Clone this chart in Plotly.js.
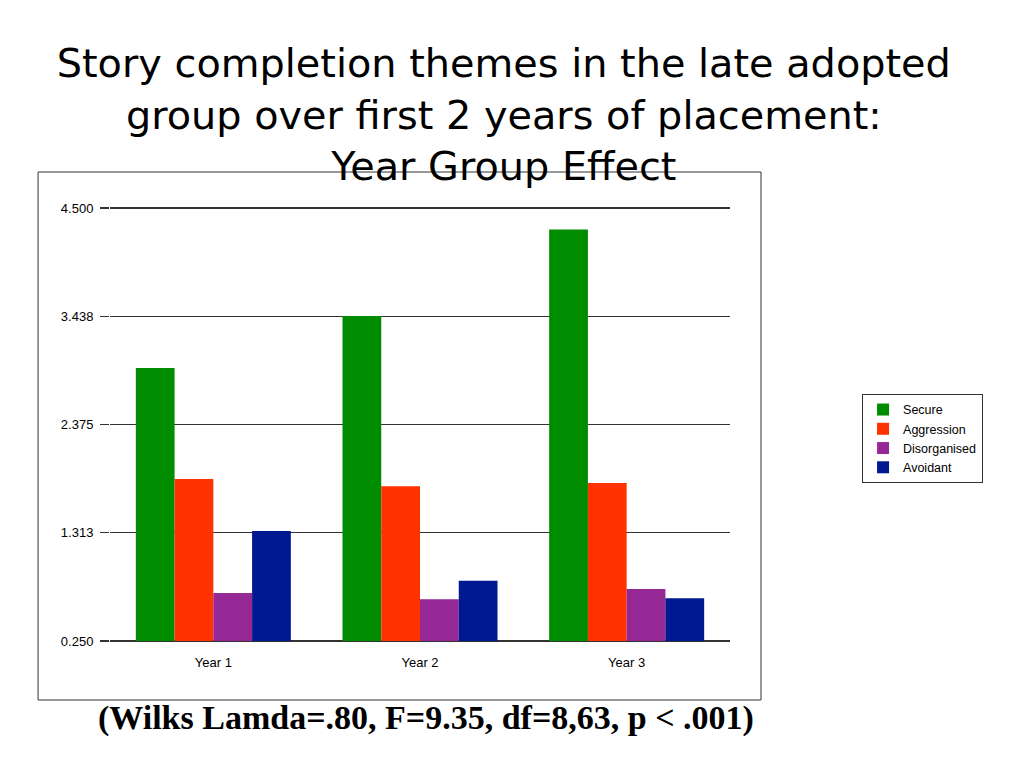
<!DOCTYPE html>
<html>
<head>
<meta charset="utf-8">
<script src="https://cdn.plot.ly/plotly-3.0.1.min.js"></script>
<style>html,body{margin:0;padding:0;background:#fff;}#chart{width:1024px;height:768px;}</style>
</head>
<body>
<div id="chart"></div>
<script>
const categories = ["Year 1", "Year 2", "Year 3"];
const seriesNames = ["Secure", "Aggression", "Disorganised", "Avoidant"];
const secure = [2.93, 3.44, 4.29];
const aggression = [1.84, 1.77, 1.80];
const disorganised = [0.72, 0.66, 0.76];
const avoidant = [1.33, 0.84, 0.67];
const tickValues = [0.25, 1.3125, 2.375, 3.4375, 4.5];
const tickLabels = ["0.250", "1.313", "2.375", "3.438", "4.500"];
const colors = ["#008c00", "#ff3300", "#962896", "#001890"];
const seriesValues = [secure, aggression, disorganised, avoidant];

const traces = seriesNames.map((name, i) => ({
  type: "bar",
  name: name,
  x: categories,
  y: seriesValues[i].map(v => v - 0.25),
  base: 0.25,
  marker: {color: colors[i], line: {width: 0}},
  hoverinfo: "name+y"
}));

const layout = {
  width: 1024,
  height: 768,
  paper_bgcolor: "#ffffff",
  plot_bgcolor: "#ffffff",
  margin: {l: 110, r: 294, t: 206, b: 125, pad: 0},
  barmode: "group",
  bargap: 0.25,
  bargroupgap: 0,
  title: {
    text: "Story completion themes in the late adopted<br>group over first 2 years of placement:<br>Year Group Effect",
    font: {family: "DejaVu Sans, sans-serif", size: 39.8, color: "#000"},
    x: 0.492, xref: "container", xanchor: "center",
    y: 0.9, yref: "container", yanchor: "top"
  },
  xaxis: {
    showgrid: false,
    showline: false,
    zeroline: false,
    ticks: "",
    tickfont: {family: "Liberation Sans, Arial, sans-serif", size: 13, color: "#000"},
    ticklabelstandoff: 10
  },
  yaxis: {
    range: [0.23, 4.52],
    tickvals: tickValues,
    ticktext: tickLabels,
    showgrid: true,
    gridcolor: "#333333",
    gridwidth: 1.5,
    zeroline: false,
    showline: false,
    ticks: "outside",
    ticklen: 9,
    tickcolor: "#333333",
    tickwidth: 1.5,
    ticklabelstandoff: 4,
    tickfont: {family: "Liberation Sans, Arial, sans-serif", size: 13, color: "#000"}
  },
  legend: {
    x: 1.213, xanchor: "left",
    y: 0.570, yanchor: "top",
    bgcolor: "#ffffff",
    bordercolor: "#333333",
    borderwidth: 1,
    font: {family: "Liberation Sans, Arial, sans-serif", size: 12.5, color: "#000"},
    itemwidth: 30,
    entrywidth: 110,
    entrywidthmode: "pixels",
    tracegroupgap: 0
  },
  shapes: [{
    type: "rect", xref: "paper", yref: "paper", layer: "below",
    x0: -0.116, x1: 1.050,
    y0: -0.1304, y1: 1.0778,
    line: {color: "#333333", width: 1}
  }],
  annotations: [{
    text: "<b>(Wilks Lamda=.80, F=9.35, df=8,63, p < .001)</b>",
    xref: "paper", yref: "paper",
    x: 0.509, y: -0.1716, xanchor: "center", yanchor: "middle",
    showarrow: false,
    font: {family: "Liberation Serif, Times New Roman, serif", size: 34, color: "#000"}
  }]
};

Plotly.newPlot("chart", traces, layout, {displayModeBar: false, staticPlot: true});
</script>
</body>
</html>
